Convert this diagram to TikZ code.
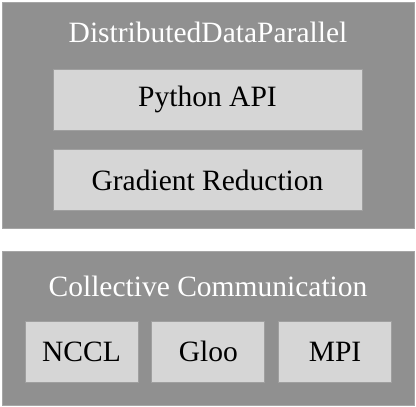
\documentclass[tikz,border=0pt]{standalone}
\usepackage{fontspec}
\setmainfont{Liberation Serif}
\usetikzlibrary{positioning}
\definecolor{layergray}{HTML}{909090}
\definecolor{blockgray}{HTML}{D6D6D6}
\tikzstyle{layer} = [rectangle, minimum width=412pt, draw=gray!70, line width=0.8pt, fill=layergray, inner sep=0pt]
\tikzstyle{block} = [rectangle, minimum height=61pt, text centered, draw=gray!75, line width=0.8pt, fill=blockgray, font=\fontsize{29.5}{32}\selectfont]
\tikzstyle{caption} = [text=white, font=\fontsize{29.5}{32}\selectfont]

\begin{document}
\begin{tikzpicture}[x=1pt, y=-1pt]
    \useasboundingbox (0,0) rectangle (416,407);
    \node (ddp) [layer, minimum height=226pt] at (208,115) {};
    \node (comm) [layer, minimum height=154pt] at (208,328) {};
    \node (ddptitle) [caption] at (208,32) {DistributedDataParallel};
    \node (commtitle) [caption] at (208,286) {Collective Communication};

    \node (python) [block, minimum width=309pt] at (207.5,99.5) {Python API};
    \node (gradient) [block, minimum width=309pt, below=19pt of python] {Gradient Reduction};

    \node (nccl) [block, minimum width=113pt] at (81.5,351.5) {NCCL};
    \node (gloo) [block, minimum width=113pt, right=13pt of nccl] {Gloo};
    \node (mpi) [block, minimum width=113pt, right=13pt of gloo] {MPI};
\end{tikzpicture}
\end{document}
